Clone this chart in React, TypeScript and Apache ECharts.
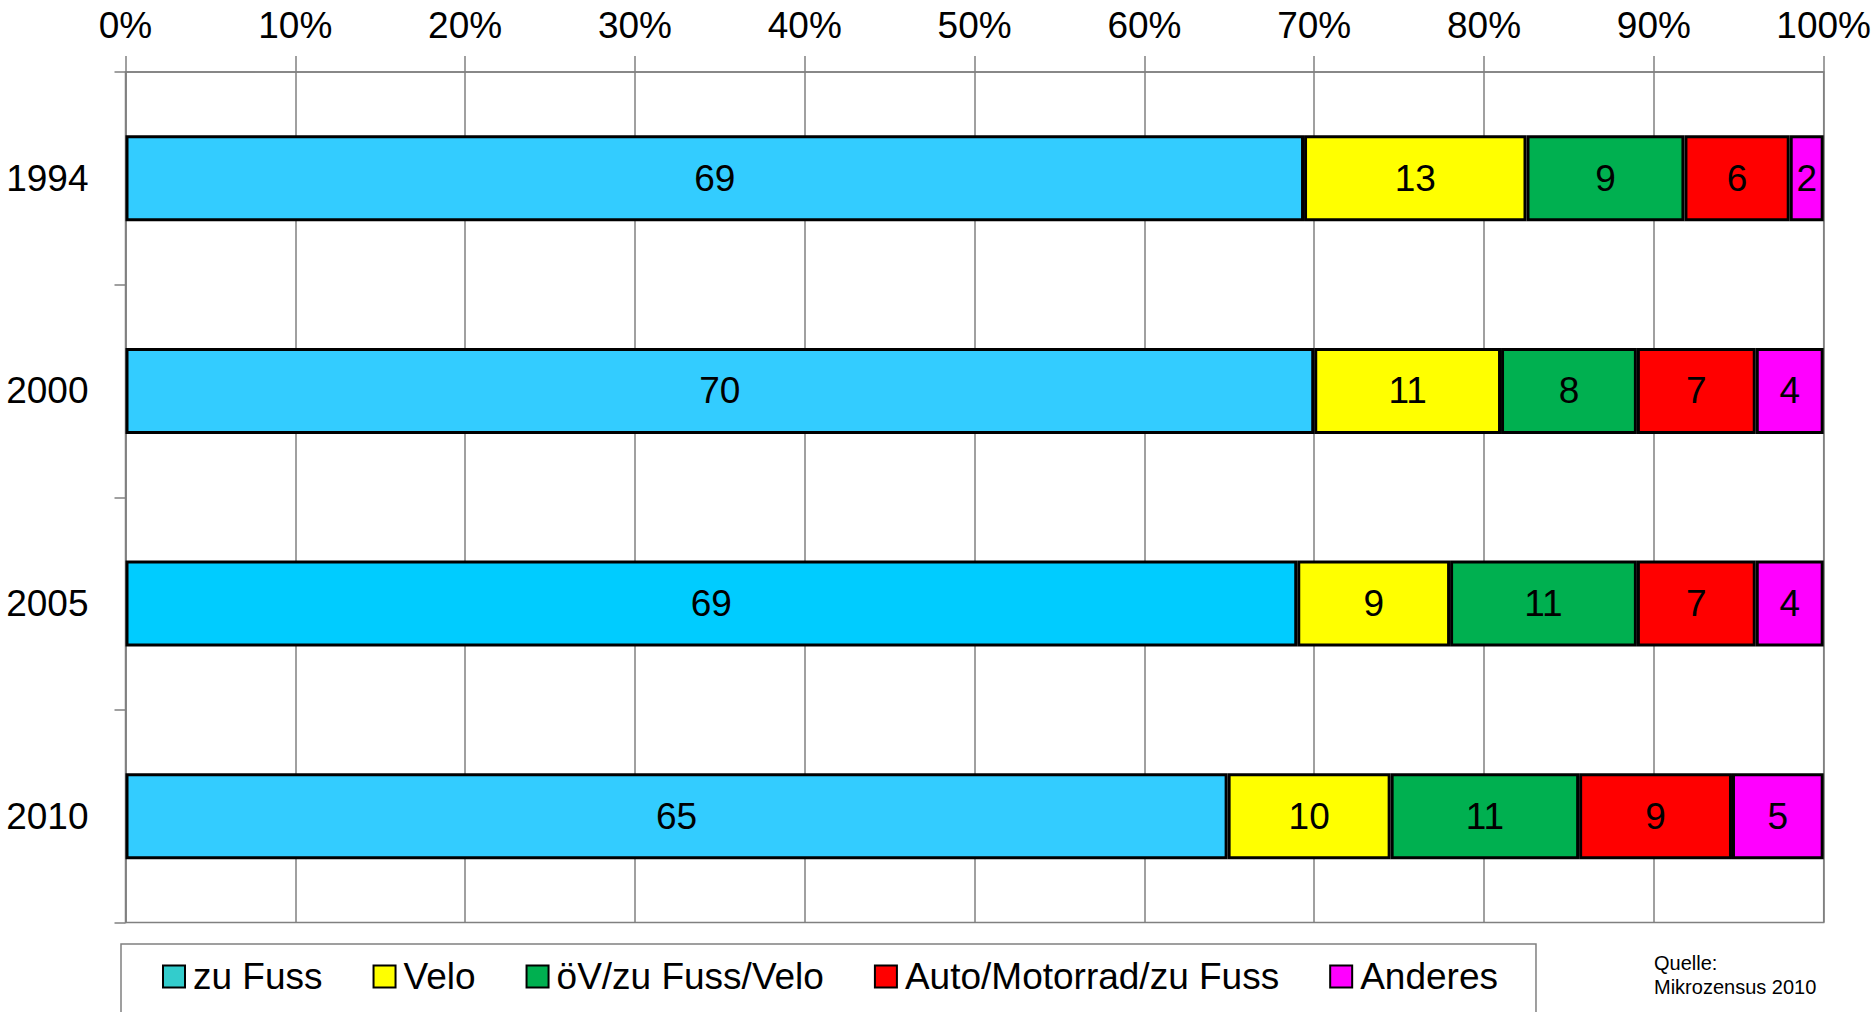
import React, { useEffect, useRef } from "react";
import * as echarts from "echarts";

const years = ["1994", "2000", "2005", "2010"];
const seriesNames = ["zu Fuss", "Velo", "öV/zu Fuss/Velo", "Auto/Motorrad/zu Fuss", "Anderes"];
const zuFuss = [69.4, 70.0, 69.0, 64.9];
const velo = [13.1, 11.0, 9.0, 9.6];
const oev = [9.3, 8.0, 11.0, 11.1];
const auto = [6.2, 7.0, 7.0, 9.0];
const anderes = [2.0, 4.0, 4.0, 5.4];
const xTicks = [0, 10, 20, 30, 40, 50, 60, 70, 80, 90, 100];
const zuFussColors = ["#33CCFF", "#33CCFF", "#00CCFF", "#33CCFF"];
const seriesColors = ["#33CCCC", "#FFFF00", "#00B050", "#FF0000", "#FF00FF"];
const sourceText = "Quelle:\nMikrozensus 2010";

const FONT = "'Liberation Sans', Arial, sans-serif";

export default function App() {
  const ref = useRef<HTMLDivElement>(null);
  useEffect(() => {
    document.body.style.margin = "0";
    const chart = echarts.init(ref.current!, null, { renderer: "svg" });
    const allData = [zuFuss, velo, oev, auto, anderes];
    const series = allData.map((arr, si) => ({
      name: seriesNames[si],
      type: "bar",
      stack: "total",
      barWidth: 86,
      itemStyle: { color: seriesColors[si], borderColor: "#000", borderWidth: 3 },
      label: {
        show: true,
        position: "inside",
        color: "#000",
        fontSize: 37,
        fontFamily: FONT,
        formatter: (p: any) => String(Math.round(p.value)),
      },
      data: arr.map((v, i) =>
        si === 0 ? { value: v, itemStyle: { color: zuFussColors[i] } } : { value: v }
      ),
    }));
    chart.setOption({
      animation: false,
      backgroundColor: "#fff",
      grid: {
        left: 125.5,
        right: 50,
        top: 72,
        bottom: 89.5,
        show: true,
        borderColor: "#808080",
        borderWidth: 1.5,
        backgroundColor: "transparent",
      },
      xAxis: {
        type: "value",
        position: "top",
        min: xTicks[0],
        max: xTicks[xTicks.length - 1],
        interval: 10,
        axisLine: { show: true, lineStyle: { color: "#808080", width: 1.5 } },
        axisTick: { show: true, length: 16, lineStyle: { color: "#808080", width: 1.5 } },
        splitLine: { show: true, lineStyle: { color: "#808080", width: 1.5 } },
        axisLabel: {
          formatter: "{value}%",
          color: "#000",
          fontSize: 37,
          fontFamily: FONT,
          margin: 28,
        },
      },
      yAxis: {
        type: "category",
        inverse: true,
        data: years,
        axisLine: { show: true, lineStyle: { color: "#808080", width: 1.5 } },
        axisTick: { show: true, length: 11, lineStyle: { color: "#808080", width: 1.5 } },
        splitLine: { show: false },
        axisLabel: { color: "#000", fontSize: 37, fontFamily: FONT, margin: 37 },
      },
      legend: {
        left: 121,
        top: 944,
        orient: "horizontal",
        data: seriesNames,
        icon: "rect",
        itemWidth: 22,
        itemHeight: 22,
        itemGap: 50,
        padding: [14, 38, 40, 41],
        borderColor: "#808080",
        borderWidth: 1.5,
        textStyle: { color: "#000", fontSize: 37, fontFamily: FONT, padding: [0, 0, 0, 3] },
        itemStyle: { borderColor: "#000", borderWidth: 2 },
      },
      graphic: [
        {
          type: "text",
          left: 1654,
          top: 951,
          style: {
            text: sourceText,
            fill: "#000",
            font: `20px ${FONT}`,
            lineHeight: 24,
          },
        },
      ],
      series,
    });
    return () => chart.dispose();
  }, []);
  return (
    <div
      ref={ref}
      style={{ position: "fixed", left: 0, top: 0, width: 1874, height: 1012 }}
    />
  );
}
